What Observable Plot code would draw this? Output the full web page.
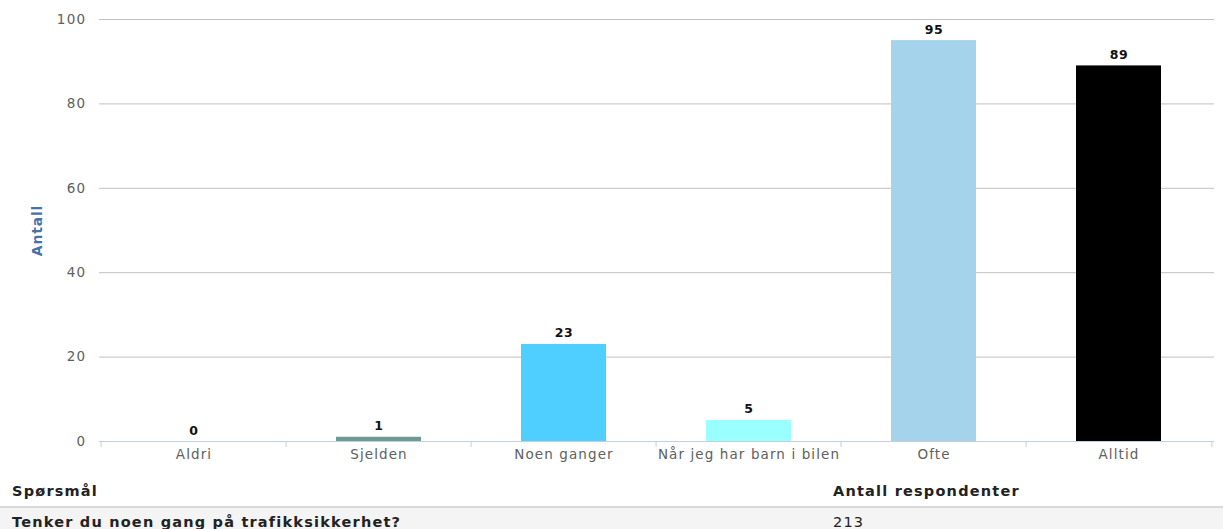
<!DOCTYPE html>
<html>
<head>
<meta charset="utf-8">
<script src="https://cdn.jsdelivr.net/npm/d3@7"></script>
<script src="https://cdn.jsdelivr.net/npm/@observablehq/plot@0.6"></script>
<style>
  html, body { margin: 0; padding: 0; background: #fff; }
  body { width: 1223px; height: 529px; overflow: hidden; font-family: "DejaVu Sans", Verdana, sans-serif; }
  #chart svg { display: block; }
  #chart g[aria-label="x-axis tick label"] text { letter-spacing: 1.1px; }
  #chart g[aria-label="y-axis tick label"] text { letter-spacing: 1.3px; }
  #chart g.vlabel text { letter-spacing: 0.6px; }
  #chart g.ylab text { letter-spacing: 0.8px; }
  table { border-collapse: collapse; width: 1223px; font-family: "DejaVu Sans", Verdana, sans-serif; font-size: 14.5px; letter-spacing: 1.2px; color: #222; }
  th { text-align: left; font-weight: bold; padding: 6px 0 0 12px; height: 30px; vertical-align: middle; border-bottom: 2px solid #d8d8d8; }
  td { font-weight: bold; padding: 0 0 0 12px; height: 28px; background: #f4f4f4; vertical-align: middle; }
  td.num { font-weight: normal; padding-left: 12px; }
  th.num { padding-left: 12px; }
</style>
</head>
<body>
<div id="chart"></div>
<table>
  <tr><th id="h1"></th><th class="num" id="h2"></th></tr>
  <tr><td id="q"></td><td class="num" id="n"></td></tr>
</table>
<script>
const categories = ["Aldri", "Sjelden", "Noen ganger", "Når jeg har barn i bilen", "Ofte", "Alltid"];
const values = [0, 1, 23, 5, 95, 89];
const colors = ["#7cb5ec", "#6f9a94", "#4fcfff", "#99ffff", "#a6d3ec", "#000000"];
const yTicks = [0, 20, 40, 60, 80, 100];
const yLabel = "Antall";
const tableHeaders = ["Spørsmål", "Antall respondenter"];
const questions = ["Tenker du noen gang på trafikksikkerhet?"];
const respondents = [213];

const data = categories.map((c, i) => ({cat: c, value: values[i], color: colors[i]}));

const W = 1223, H = 470;
const mL = 99, mR = 9, mT = 19, mB = 29;
const step = (W - mL - mR) / categories.length;

const plot = Plot.plot({
  width: W,
  height: H,
  marginLeft: mL,
  marginRight: mR,
  marginTop: mT,
  marginBottom: mB,
  style: {fontFamily: "DejaVu Sans, Verdana, sans-serif", background: "#fff"},
  x: {domain: categories, paddingInner: 0.54, paddingOuter: 0.27, label: null},
  y: {domain: [0, 100], ticks: yTicks, label: null},
  color: {type: "identity"},
  marks: [
    Plot.gridY(yTicks.filter(d => d > 0), {stroke: "#c0c0c0", strokeOpacity: 1, strokeWidth: 1}),
    Plot.barY(data, {x: "cat", y: "value", fill: "color"}),
    Plot.ruleY([0], {stroke: "#c0d0e0", strokeWidth: 1}),
    Plot.ruleX(categories, {x: d => d, y1: 0, y2: 0, dx: -step / 2, stroke: "#c0d0e0", insetBottom: -6}),
    Plot.ruleX([categories[categories.length - 1]], {x: d => d, y1: 0, y2: 0, dx: step / 2, stroke: "#c0d0e0", insetBottom: -6}),
    Plot.axisX({tickSize: 0, tickPadding: 8, fontSize: 13.5, fill: "#606060"}),
    Plot.axisY(yTicks, {tickSize: 0, tickPadding: 13, fontSize: 13.5, fill: "#606060"}),
    Plot.text(data, {x: "cat", y: "value", text: d => String(d.value), dy: -11, fontSize: 12.5, fontWeight: "bold", fill: "#111", className: "vlabel"}),
    Plot.text([yLabel], {frameAnchor: "left", textAnchor: "middle", text: d => d, rotate: -90, dx: -62, fontSize: 14, fontWeight: "bold", fill: "#4572a7", className: "ylab"})
  ]
});
document.getElementById("chart").appendChild(plot);

document.getElementById("h1").textContent = tableHeaders[0];
document.getElementById("h2").textContent = tableHeaders[1];
document.getElementById("q").textContent = questions[0];
document.getElementById("n").textContent = String(respondents[0]);
document.getElementById("h1").style.width = "809px";
</script>
</body>
</html>
